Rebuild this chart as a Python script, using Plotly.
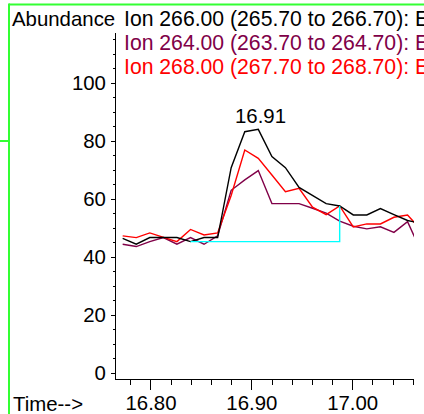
import plotly.graph_objects as go

# scan times (min)
times = [16.7719, 16.7854, 16.7988, 16.8123, 16.8257, 16.8392, 16.8526, 16.8661,
         16.8795, 16.8930, 16.9064, 16.9199, 16.9333, 16.9468, 16.9602, 16.9737,
         16.9871, 17.0006, 17.0140, 17.0275, 17.0409, 17.0544, 17.0678]

ion266 = [46.4, 44.4, 46.7, 46.7, 46.7, 45.3, 46.7, 46.7, 70.8, 83.2, 84.0, 74.6,
          70.8, 64.0, 61.2, 58.4, 57.6, 54.5, 54.5, 56.7, 54.6, 52.6, 51.6]
ion264 = [44.4, 43.6, 45.3, 46.7, 44.4, 46.7, 44.4, 47.3, 63.0, 66.6, 69.8, 58.4,
          58.4, 58.4, 56.8, 55.1, 52.4, 50.6, 49.7, 50.4, 48.5, 52.2, 42.0]
ion268 = [47.3, 46.7, 48.3, 46.7, 45.3, 49.5, 47.6, 48.3, 61.2, 76.9, 74.0, 68.3,
          62.5, 63.7, 57.2, 54.6, 57.6, 50.4, 51.4, 51.4, 53.7, 54.5, 49.3]

legend_labels = ["Ion 266.00 (265.70 to 266.70): E",
                 "Ion 264.00 (263.70 to 264.70): E",
                 "Ion 268.00 (267.70 to 268.70): E"]
colors = ["#000000", "#800048", "#ff0000"]

# integration baseline (start / end scan index)
base_start, base_end = 5, 16
peak_idx = 10

W, H = 424, 414
L, R, T, B = 116, 10, 33, 35
PW, PH = W - L - R, H - T - B
FONT = "Liberation Sans, Arial, sans-serif"
FS = 20.4


def px_x(px):
    return (px - L) / PW


def px_y(py):
    return (H - B - py) / PH


fig = go.Figure()
for series, col in [(ion264, colors[1]), (ion268, colors[2]), (ion266, colors[0])]:
    fig.add_trace(go.Scatter(x=times, y=series, mode="lines",
                             line=dict(color=col, width=1.4), showlegend=False,
                             hoverinfo="skip"))

# baseline (cyan)
fig.add_trace(go.Scatter(
    x=[times[base_start], times[base_end], times[base_end]],
    y=[ion266[base_start], ion266[base_start], ion266[base_end]],
    mode="lines", line=dict(color="#00ffff", width=1.4), showlegend=False,
    hoverinfo="skip"))

annotations = [
    dict(text="Abundance", x=px_x(10), y=px_y(19), xref="paper", yref="paper",
         xanchor="left", yanchor="middle", showarrow=False,
         font=dict(size=FS, color="black", family=FONT)),
    dict(text="Time-->", x=px_x(11), y=px_y(404), xref="paper", yref="paper",
         xanchor="left", yanchor="middle", showarrow=False,
         font=dict(size=FS, color="black", family=FONT)),
    dict(text=f"{times[peak_idx]:.2f}", x=times[peak_idx], y=ion266[peak_idx],
         xref="x", yref="y", xanchor="center", yanchor="bottom", yshift=0,
         xshift=2, showarrow=False,
         font=dict(size=FS, color="black", family=FONT)),
]
for i, (lab, col) in enumerate(zip(legend_labels, colors)):
    annotations.append(dict(text=lab, x=px_x(122), y=px_y(19 + 24 * i),
                            xref="paper", yref="paper", xanchor="left",
                            yanchor="middle", showarrow=False,
                            font=dict(size=21.2, color=col, family=FONT)))

green = "#33ff33"
shapes = [
    dict(type="line", xref="paper", yref="paper", x0=px_x(9), x1=px_x(W + 5),
         y0=px_y(4.5), y1=px_y(4.5), line=dict(color=green, width=2)),
    dict(type="line", xref="paper", yref="paper", x0=px_x(9), x1=px_x(9),
         y0=px_y(3.5), y1=px_y(H + 5), line=dict(color=green, width=2)),
    dict(type="line", xref="paper", yref="paper", x0=px_x(-5), x1=px_x(9),
         y0=px_y(141), y1=px_y(141), line=dict(color=green, width=2)),
]

fig.update_layout(
    width=W, height=H,
    margin=dict(l=L, r=R, t=T, b=B, pad=0, autoexpand=False),
    paper_bgcolor="white", plot_bgcolor="white",
    font=dict(family=FONT, size=FS, color="black"),
    annotations=annotations, shapes=shapes,
    xaxis=dict(range=[16.7653, 17.0608], tick0=16.8, dtick=0.1,
               automargin=False, ticklabelstandoff=-4,
               tickformat=".2f", ticks="outside", ticklen=10, tickwidth=1,
               tickcolor="black", showline=True, linecolor="black",
               linewidth=1, showgrid=False, zeroline=False,
               tickfont=dict(size=FS, family=FONT),
               minor=dict(dtick=0.02, tick0=16.8, ticks="outside", ticklen=5,
                          tickcolor="black", showgrid=False)),
    yaxis=dict(range=[-2.07, 117.24], tick0=0, dtick=20, ticks="outside",
               automargin=False,
               ticklen=4, tickwidth=1, tickcolor="black", showline=True,
               linecolor="black", linewidth=1, showgrid=False, zeroline=False,
               tickfont=dict(size=FS, family=FONT), ticklabelstandoff=1,
               minor=dict(dtick=5, tick0=0, ticks="outside", ticklen=2,
                          tickcolor="black", showgrid=False)),
)

fig.write_html("out.html",
               config={"displayModeBar": False},
               post_script="document.body.style.margin='0';"
                           "document.body.style.overflow='hidden';")
